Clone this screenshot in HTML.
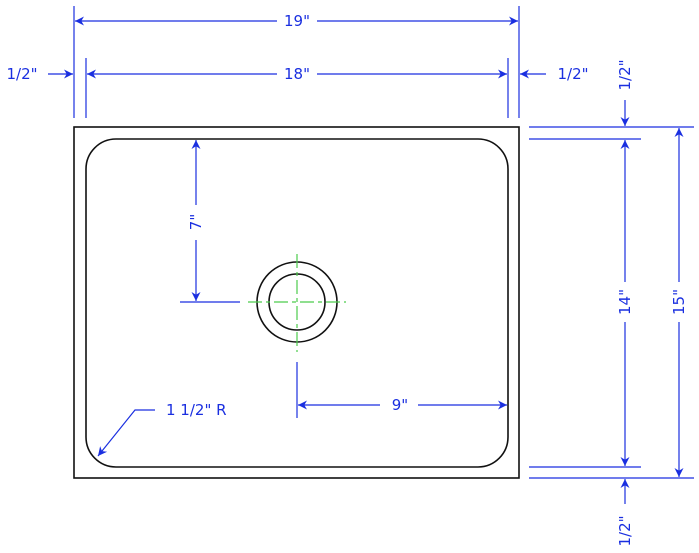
<!DOCTYPE html>
<html><head><style>body{margin:0;background:#fff}svg{display:block}text{font-family:"DejaVu Sans","Liberation Sans",sans-serif;font-size:15px;fill:#1a2fe0}</style></head><body>
<svg width="699" height="553" viewBox="0 0 699 553" xmlns="http://www.w3.org/2000/svg">
<defs>
<marker id="a" viewBox="0 0 10 10" refX="10" refY="5" markerWidth="16" markerHeight="9" markerUnits="userSpaceOnUse" orient="auto"><path d="M0,0 L10,5 L0,10 L3,5 Z" fill="#1a2fe0"/></marker>
</defs>
<g fill="none" stroke="#111" stroke-width="1.6">
<rect x="74" y="127" width="445" height="351"/>
<rect x="86" y="139" width="422" height="328" rx="30"/>
<circle cx="297" cy="302" r="40"/>
<circle cx="297" cy="302" r="28"/>
</g>
<g stroke="#4ccc4c" stroke-width="1.2" stroke-dasharray="14,4,4,4">
<line x1="248" y1="302" x2="346" y2="302"/>
<line x1="297" y1="254" x2="297" y2="352"/>
</g>
<g stroke="#1a2fe0" stroke-width="1.2" fill="none">
<line x1="74" y1="6" x2="74" y2="118"/><line x1="519" y1="6" x2="519" y2="118"/>
<line x1="86" y1="58" x2="86" y2="118"/><line x1="508" y1="58" x2="508" y2="118"/>
<line x1="277" y1="21" x2="75" y2="21" marker-end="url(#a)"/>
<line x1="317" y1="21" x2="518" y2="21" marker-end="url(#a)"/>
<line x1="277" y1="74" x2="87" y2="74" marker-end="url(#a)"/>
<line x1="317" y1="74" x2="507" y2="74" marker-end="url(#a)"/>
<line x1="48" y1="74" x2="73" y2="74" marker-end="url(#a)"/>
<line x1="546" y1="74" x2="520" y2="74" marker-end="url(#a)"/>
<line x1="529" y1="127" x2="694" y2="127"/><line x1="529" y1="139" x2="641" y2="139"/>
<line x1="529" y1="467" x2="641" y2="467"/><line x1="529" y1="478" x2="694" y2="478"/>
<line x1="625" y1="100" x2="625" y2="126" marker-end="url(#a)"/>
<line x1="625" y1="504" x2="625" y2="479" marker-end="url(#a)"/>
<line x1="625" y1="282" x2="625" y2="140" marker-end="url(#a)"/>
<line x1="625" y1="322" x2="625" y2="466" marker-end="url(#a)"/>
<line x1="679" y1="282" x2="679" y2="128" marker-end="url(#a)"/>
<line x1="679" y1="322" x2="679" y2="477" marker-end="url(#a)"/>
<line x1="196" y1="205" x2="196" y2="140" marker-end="url(#a)"/>
<line x1="196" y1="240" x2="196" y2="301" marker-end="url(#a)"/>
<line x1="180" y1="302" x2="240" y2="302"/>
<line x1="297" y1="362" x2="297" y2="418"/>
<line x1="380" y1="405" x2="298" y2="405" marker-end="url(#a)"/>
<line x1="418" y1="405" x2="507" y2="405" marker-end="url(#a)"/>
<polyline points="155,410 135,410 98,456" marker-end="url(#a)"/>
</g>
<text x="297" y="26" text-anchor="middle">19"</text>
<text x="297" y="79" text-anchor="middle">18"</text>
<text x="22" y="79" text-anchor="middle">1/2"</text>
<text x="573" y="79" text-anchor="middle">1/2"</text>
<text x="400" y="410" text-anchor="middle">9"</text>
<text x="166" y="415">1 1/2" R</text>
<text transform="translate(201,222) rotate(-90)" text-anchor="middle">7"</text>
<text transform="translate(630,302) rotate(-90)" text-anchor="middle">14"</text>
<text transform="translate(684,302) rotate(-90)" text-anchor="middle">15"</text>
<text transform="translate(630,75) rotate(-90)" text-anchor="middle">1/2"</text>
<text transform="translate(630,531) rotate(-90)" text-anchor="middle">1/2"</text>
</svg>
</body></html>
